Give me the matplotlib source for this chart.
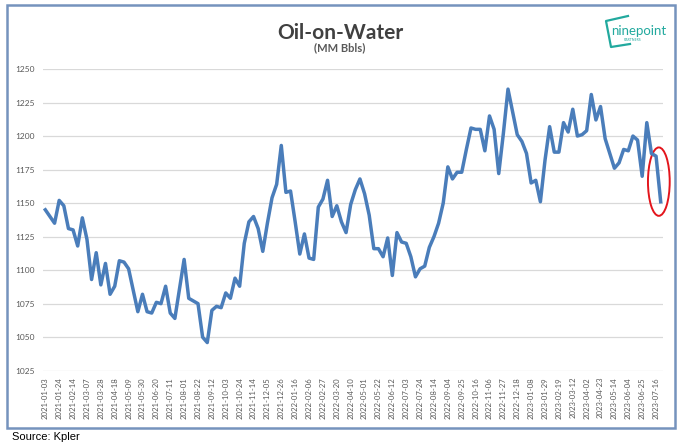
import matplotlib

matplotlib.use("Agg")
import matplotlib.pyplot as plt
import pandas as pd
from matplotlib.lines import Line2D
from matplotlib.patches import Ellipse, Rectangle

# Weekly oil-on-water volumes, MM bbls
START_DATE = "2021-01-03"
VOLUMES = [
    1145, 1140, 1135, 1152, 1148, 1131, 1130, 1118, 1139, 1123,
    1093, 1113, 1089, 1105, 1082, 1088, 1107, 1106, 1101, 1085,
    1069, 1082, 1069, 1068, 1076, 1075, 1088, 1068, 1064, 1086,
    1108, 1079, 1077, 1075, 1050, 1046, 1070, 1073, 1072, 1083,
    1079, 1094, 1088, 1120, 1136, 1140, 1131, 1114, 1135, 1154,
    1164, 1193, 1158, 1159, 1136, 1112, 1127, 1109, 1108, 1147,
    1153, 1167, 1140, 1148, 1136, 1128, 1149, 1160, 1168, 1157,
    1141, 1116, 1116, 1110, 1124, 1096, 1128, 1121, 1120, 1110,
    1095, 1101, 1103, 1117, 1125, 1135, 1150, 1177, 1168, 1173,
    1173, 1190, 1206, 1205, 1205, 1189, 1215, 1205, 1172, 1202,
    1235, 1218, 1201, 1196, 1187, 1165, 1167, 1151, 1182, 1207,
    1188, 1188, 1210, 1203, 1220, 1200, 1201, 1204, 1231, 1212,
    1222, 1198, 1187, 1176, 1180, 1190, 1189, 1200, 1197, 1170,
    1210, 1187, 1185, 1151,
]
DATES = pd.date_range(START_DATE, periods=len(VOLUMES), freq="7D")
Y_TICKS = list(range(1025, 1251, 25))
LABEL_STEP = 3  # a date label on every third week

TITLE = "Oil-on-Water"
SUBTITLE = "(MM Bbls)"
SOURCE = "Source: Kpler"

LINE = "#4a7dba"
GRID = "#d9d9d9"
TEXT = "#595959"
FRAME = "#7593bd"
TEAL = "#22a99e"
RED = "#e3151c"

W, H = 680, 446


def fx(px):
    return px / W


def fy(py):
    return 1 - py / H


fig = plt.figure(figsize=(6.8, 4.46), dpi=100, facecolor="white")
ax = fig.add_axes([fx(43), fy(370.7), fx(663) - fx(43), fy(69) - fy(370.7)])

x = list(range(len(VOLUMES)))
ax.plot(x, VOLUMES, color=LINE, linewidth=2.5, solid_joinstyle="round")

ax.set_xlim(-0.5, len(VOLUMES) - 0.5)
ax.set_ylim(Y_TICKS[0], Y_TICKS[-1])
ax.set_yticks(Y_TICKS)
ax.set_yticklabels([str(v) for v in Y_TICKS], fontsize=6, color=TEXT,
                   family="Lato")
xt = x[::LABEL_STEP]
ax.set_xticks(xt)
ax.set_xticklabels([DATES[i].strftime("%Y-%m-%d") for i in xt],
                   rotation=90, fontsize=5.6, color=TEXT, family="Lato")
ax.tick_params(length=0)
ax.tick_params(axis="y", pad=6)
ax.tick_params(axis="x", pad=4.5)
ax.grid(axis="y", color=GRID, linewidth=0.9)
ax.set_axisbelow(True)
for s in ax.spines.values():
    s.set_visible(False)

# red ellipse around the latest drop
ax.add_patch(Ellipse((len(VOLUMES) - 1.4, 1166), width=4.7, height=51,
                     fill=False, edgecolor=RED, linewidth=1.4,
                     clip_on=False))

# outer chart frame
fig.patches.append(Rectangle((fx(7), fy(428)), fx(675) - fx(7),
                             fy(5) - fy(428), transform=fig.transFigure,
                             fill=False, edgecolor=FRAME, linewidth=1.8))

fig.text(0.5, fy(33), TITLE, ha="center", va="center", fontsize=15,
         fontweight="bold", color="#404040", family="Lato")
fig.text(0.5, fy(48), SUBTITLE, ha="center", va="center", fontsize=8,
         fontweight="bold", color=TEXT, family="Lato")

# logo
fig.text(fx(639), fy(31), "ninepoint", ha="center", va="center",
         fontsize=9.5, color=TEAL, family="Lato")
fig.text(fx(632), fy(40), "PARTNERS", ha="center", va="center",
         fontsize=2.5, color=TEAL, family="Lato")
fig.lines.append(Line2D([fx(628), fx(606), fx(611), fx(630)],
                        [fy(16), fy(21), fy(47), fy(44)],
                        transform=fig.transFigure, color=TEAL,
                        linewidth=1.6))

fig.text(fx(12), fy(437), SOURCE, ha="left", va="center", fontsize=8,
         color="black", family="Liberation Sans")

fig.savefig("out.png", dpi=100, facecolor="white")
